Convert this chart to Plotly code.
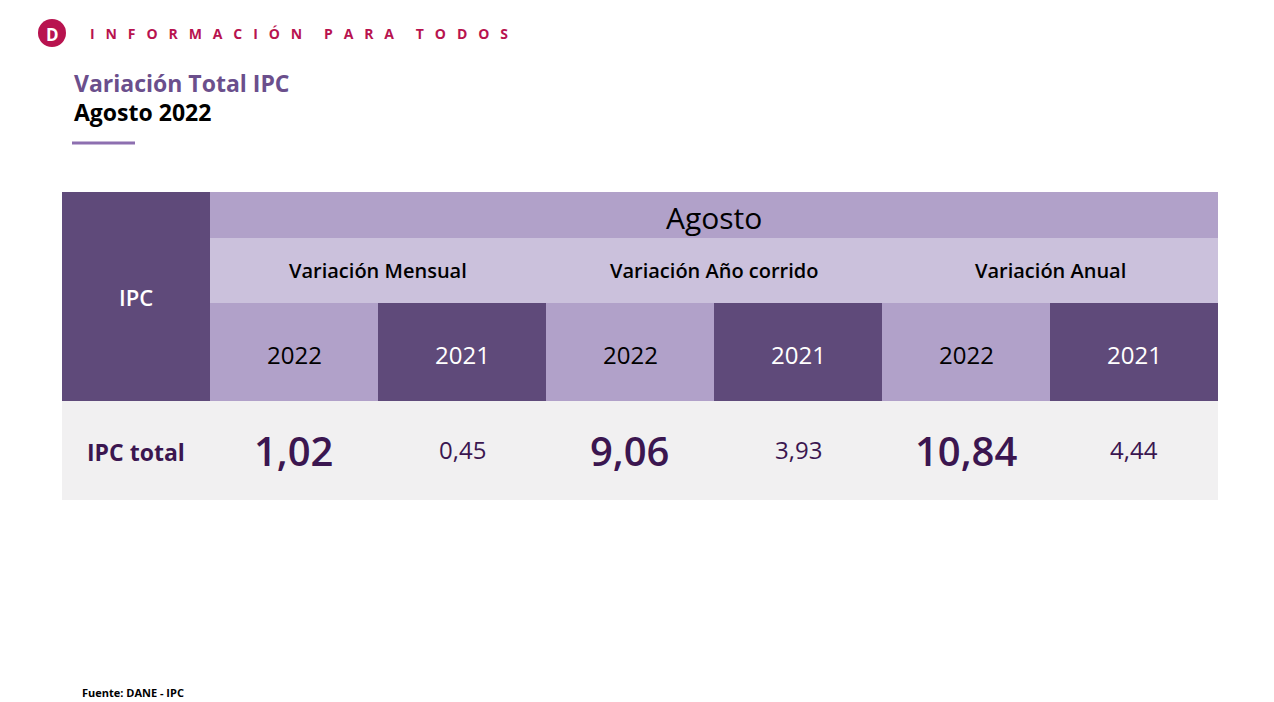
import plotly.graph_objects as go

# Table content
month = "Agosto"
groups = ["Variación Mensual", "Variación Año corrido", "Variación Anual"]
years = ["2022", "2021"]
row_label = "IPC total"
values = ["1,02", "0,45", "9,06", "3,93", "10,84", "4,44"]

DARK = "#5f4a7a"
MID = "#b1a1c9"
LIGHT = "#cbc1dc"
ROW = "#f1f0f1"
VAL = "#3b1650"
FONT = "Open Sans"

W, H = 1274, 702
OFF = 8  # page body margin
x0, xl = 62, 210
colw = (1218 - xl) / 6
y_top, y_sub, y_year, y_row, y_end = 192, 238, 303, 401, 500

fig = go.Figure()
shapes = []
ann = []

def rect(xa, ya, xb, yb, color):
    shapes.append(dict(type="rect", x0=xa, x1=xb, y0=ya, y1=yb, fillcolor=color,
                       line=dict(width=0), layer="below"))

def text(x, y, s, size, color, weight=400, xanchor="center"):
    ann.append(dict(x=x, y=y, text=s, showarrow=False,
                    xanchor=xanchor, yanchor="middle",
                    font=dict(size=size, color=color, family=FONT, weight=weight)))

# header blocks
rect(x0, y_top, xl, y_row, DARK)
rect(xl, y_top, 1218, y_sub, MID)
rect(xl, y_sub, 1218, y_year, LIGHT)
rect(x0, y_row, 1218, y_end, ROW)
text((x0 + xl) / 2, (y_top + y_row) / 2, "IPC", 22, "white", 600)
text((xl + 1218) / 2, (y_top + y_sub) / 2 + 2, month, 30, "black", 500)

for g, name in enumerate(groups):
    cx = xl + colw * (2 * g + 1)
    text(cx, (y_sub + y_year) / 2, name, 20, "black", 600)
    for k, yr in enumerate(years):
        xa = xl + colw * (2 * g + k)
        rect(xa, y_year, xa + colw, y_row, MID if k == 0 else DARK)
        text(xa + colw / 2, (y_year + y_row) / 2 + 2, yr, 24, "black" if k == 0 else "white", 500)
        v = values[2 * g + k]
        if k == 0:
            text(xa + colw / 2, 450, v, 40, VAL, 600)
        else:
            text(xa + colw / 2, 449, v, 24, VAL, 400)

text((x0 + xl) / 2, 452, row_label, 23, VAL, 700)

# slide decoration
shapes.append(dict(type="circle", x0=38, x1=66, y0=19, y1=47, fillcolor="#b8134f", line=dict(width=0)))
text(52, 34, "D", 17, "white", 700)
text(88, 33, "I   N   F   O   R   M   A   C   I   Ó   N      P   A   R   A      T   O   D   O   S", 14,
     "#b8134f", 700, xanchor="left")
text(72, 83, "Variación Total IPC", 23, "#6b4f8c", 700, xanchor="left")
text(72, 112, "Agosto 2022", 23, "black", 700, xanchor="left")
shapes.append(dict(type="line", x0=72, x1=135, y0=143, y1=143, line=dict(color="#8d6fb0", width=3)))
text(80, 692, "Fuente: DANE - IPC", 11, "black", 700, xanchor="left")

fig.update_layout(
    width=W, height=H, margin=dict(l=0, r=0, t=0, b=0),
    paper_bgcolor="white", plot_bgcolor="white",
    xaxis=dict(range=[OFF, W + OFF], visible=False, fixedrange=True),
    yaxis=dict(range=[H + OFF, OFF], visible=False, fixedrange=True),
    shapes=shapes, annotations=ann, showlegend=False,
)
fig.write_html("out.html", config={"displayModeBar": False})
